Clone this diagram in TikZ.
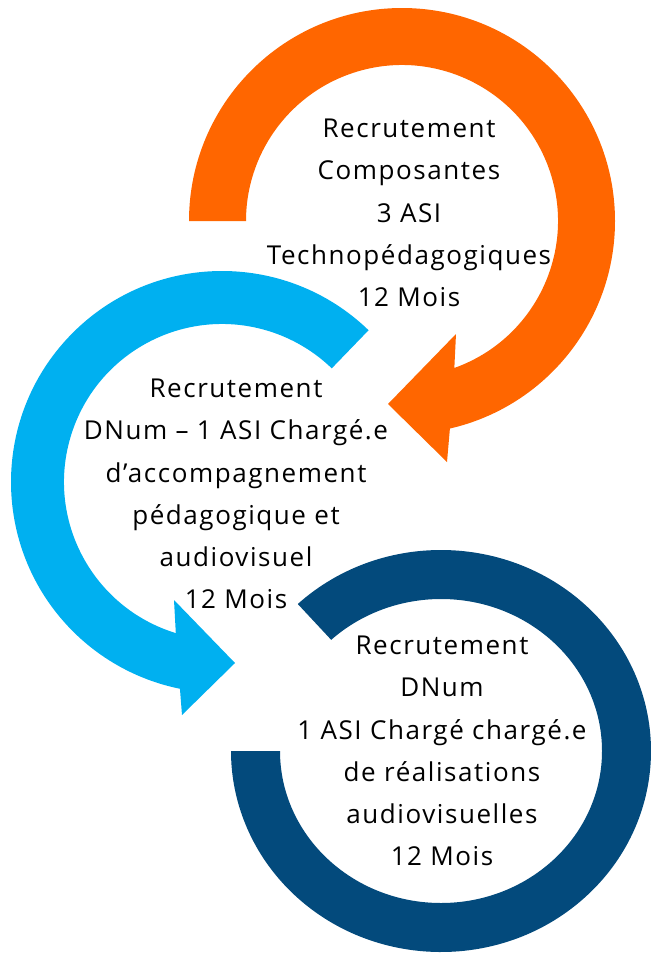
\documentclass[tikz,border=0pt]{standalone}
\usepackage{fontspec}
\setmainfont[LetterSpace=6]{Open Sans}
\usetikzlibrary{calc,positioning}
\definecolor{arrorange}{HTML}{FF6600}
\definecolor{arrlight}{HTML}{00B0F0}
\definecolor{arrdark}{HTML}{034A7C}

\begin{document}
\begin{tikzpicture}[x=0.75pt,y=0.75pt,
      orangearrow/.style={
         fill=arrorange,
         draw=none},
      lightarrow/.style={
         fill=arrlight,
         draw=none},
      darkring/.style={
         fill=arrdark,
         draw=none},
      steptext/.style={
         align=center,
         inner sep=0pt,
         font=\fontsize{19.5}{31.7}\selectfont}
      ]
      \useasboundingbox (0,0) rectangle (650,-953);

      \coordinate (oc) at (402,-221);
      \coordinate (bc) at (222,-482);
      \coordinate (dc) at (441,-751);

      % arrow heads: barb, tip, barb
      \coordinate (ob1) at (447,-462);
      \coordinate (otip) at (388,-404);
      \coordinate (ob2) at (456,-334);
      \coordinate (bb1) at (182,-715);
      \coordinate (btip) at (235,-663);
      \coordinate (bb2) at (174,-600);

      \fill[orangearrow] ($(oc)+(180:213)$) arc[start angle=180, end angle=-77, radius=213]
        -- (ob1) -- (otip) -- (ob2)
        -- ($(oc)+(-70.4:156)$) arc[start angle=-70.4, end angle=180, radius=156] -- cycle;

      \fill[lightarrow] ($(bc)+(46:211)$) arc[start angle=46, end angle=258.5, radius=211]
        -- (bb1) -- (btip) -- (bb2)
        -- ($(bc)+(253:158)$) arc[start angle=253, end angle=46, radius=158] -- cycle;

      \fill[darkring] ($(dc)+({210*cos(133)},{201*sin(133)})$)
        arc[start angle=133, end angle=-180, x radius=210, y radius=201]
        -- ($(dc)+(-161,0)$)
        arc[start angle=-180, end angle=133, x radius=161, y radius=152] -- cycle;

      \node[steptext] (txtorange) at (409,-213) {Recrutement\\Composantes\\3 ASI\\Technopédagogiques\\12 Mois};
      \node[steptext] (txtlight) at (236,-494) {Recrutement\\DNum – 1 ASI Chargé.e\\d’accompagnement\\pédagogique et\\audiovisuel\\12 Mois};
      \node[steptext] (txtdark) at (442,-751) {Recrutement\\DNum\\1 ASI Chargé chargé.e\\de réalisations\\audiovisuelles\\12 Mois};
    \end{tikzpicture}
\end{document}
